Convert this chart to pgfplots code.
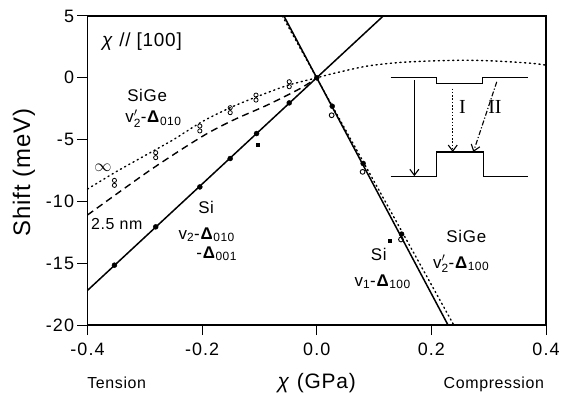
\documentclass[border=0pt]{standalone}
\usepackage{pgfplots}
\pgfplotsset{compat=1.18}
\usepackage{fontspec}
\setmainfont[LetterSpace=4]{Liberation Sans}
\newfontfamily\tickfont[LetterSpace=6]{Liberation Sans}
\newfontfamily\seriffont{Liberation Serif}
\usetikzlibrary{arrows.meta}
\newcommand{\sbs}[1]{$_{\mbox{\fontsize{12}{12}\selectfont #1}}$}
\newcommand{\sbsp}[1]{$^{\prime}_{\mbox{\fontsize{12}{12}\selectfont #1}}$}
\newcommand{\bD}{\textbf{Δ}}
\begin{document}
\begin{tikzpicture}
\begin{axis}[name=ax,
  scale only axis, width=458.5bp, height=309bp,
  xmin=-0.4, xmax=0.4, ymin=-20, ymax=5,
  xtick={-0.4,-0.2,0,0.2,0.4}, xticklabels={-0.4,-0.2,0.0,0.2,0.4},
  ytick={-20,-15,-10,-5,0,5}, yticklabels={-20,-15,-10,-5,0,5},
  tick align=outside, xtick pos=bottom, ytick pos=left,
  major tick length=10bp,
  axis line style={line width=1.6bp},
  every tick/.style={black, line width=1bp},
  tick label style={font=\tickfont\fontsize{18}{18}\selectfont},
  xticklabel style={yshift=-4bp},
  clip=false,
]
% Si v2 - Delta010 - Delta001 (solid)
\addplot[black, line width=1.5bp] coordinates {(-0.4,-17.2) (0.116,5)};
% Si v1 - Delta100 (solid steep)
\addplot[black, line width=1.5bp] coordinates {(-0.0573,5) (0.229,-20)};
% SiGe v2' - Delta100 (dotted steep)
\addplot[black, line width=1.4bp, dash pattern=on 1.2bp off 3.3bp, line cap=round] coordinates {(-0.06,5) (0.239,-20)};
% SiGe v2' - Delta010 (dotted curve, infinite)
\addplot[black, line width=1.4bp, dash pattern=on 1.2bp off 3.6bp, line cap=round, smooth] coordinates {
(-0.4,-9.0) (-0.35,-7.6) (-0.3,-6.3) (-0.25,-5.0) (-0.2,-3.55) (-0.15,-2.4) (-0.1,-1.45) (-0.05,-0.6) (0,0)
(0.029,0.35) (0.087,0.94) (0.145,1.24) (0.204,1.37) (0.262,1.42) (0.32,1.34) (0.378,1.16) (0.4,1.02)};
% 2.5 nm (dashed)
\addplot[black, line width=1.4bp, dash pattern=on 7bp off 4.5bp, smooth] coordinates {
(-0.4,-11.1) (-0.29,-7.45) (-0.2,-4.75) (-0.146,-3.43) (-0.087,-2.22) (-0.029,-0.87) (0,0)};
% Si filled points
\addplot[only marks, mark=*, mark size=2.5bp, black] coordinates {
(-0.353,-15.16) (-0.281,-12.06) (-0.204,-8.83) (-0.151,-6.53) (-0.105,-4.51) (-0.048,-2.03) (0,0)
(0.027,-2.30) (0.081,-6.93) (0.148,-12.65)};
% SiGe open points, right
\addplot[only marks, mark=o, mark size=2.4bp, black, mark options={line width=0.9bp}] coordinates {
(0.026,-3.03) (0.080,-7.61) (0.147,-13.08)};
% SiGe open points, left (pairs)
\addplot[only marks, mark=o, mark size=2.1bp, black, mark options={line width=0.8bp}] coordinates {
(-0.353,-8.3) (-0.281,-6.06) (-0.204,-3.9) (-0.151,-2.42) (-0.106,-1.4) (-0.048,-0.32)};
\addplot[only marks, mark=o, mark size=2.1bp, black, mark options={line width=0.8bp}] coordinates {
(-0.353,-8.7) (-0.281,-6.46) (-0.204,-4.3) (-0.151,-2.82) (-0.106,-1.8) (-0.048,-0.72)};
% small squares
\addplot[only marks, mark=square*, mark size=1.4bp, black] coordinates {(-0.103,-5.4) (0.127,-13.2)};

% inset energy diagram
\draw[line width=1.3bp] (axis cs:0.129,0) -- (axis cs:0.2094,0) -- (axis cs:0.2094,-0.46) -- (axis cs:0.2897,-0.46) -- (axis cs:0.2897,0) -- (axis cs:0.3693,0);
\draw[line width=1.3bp] (axis cs:0.129,-7.96) -- (axis cs:0.2094,-7.96) -- (axis cs:0.2094,-6.0) -- (axis cs:0.2908,-6.0) -- (axis cs:0.2908,-7.96) -- (axis cs:0.3693,-7.96);
\draw[line width=1.1bp, -{Straight Barb[length=6bp,width=9bp]}] (axis cs:0.1703,-0.19) -- (axis cs:0.1703,-7.96);
\draw[line width=1.1bp, dash pattern=on 1.5bp off 1.8bp, -{Straight Barb[length=6bp,width=9bp,line width=1.1bp]}] (axis cs:0.2373,-0.87) -- (axis cs:0.2373,-6.0);
\draw[line width=1.1bp, dash pattern=on 5bp off 2bp on 1.2bp off 2bp, -{Straight Barb[length=6bp,width=9bp,line width=1.1bp]}] (axis cs:0.314,-0.33) -- (axis cs:0.2733,-6.0);
\node[font=\seriffont\fontsize{20}{20}\selectfont] at (axis cs:0.254,-2.35) {I};
\node[font=\seriffont\fontsize{20}{20}\selectfont] at (axis cs:0.311,-2.35) {II};

% annotations
\node[anchor=base west, font=\fontsize{19}{19}\selectfont, inner sep=0pt] at (axis cs:-0.375,2.5) {\textit{χ} // [100]};
\node[font=\fontsize{17}{17}\selectfont] at (axis cs:-0.296,-1.45) {SiGe};
\node[font=\fontsize{17}{17}\selectfont] at (axis cs:-0.285,-3.3) {v\sbsp{2}-\bD\sbs{010}};
\node[font=\fontsize{18}{18}\selectfont] at (axis cs:-0.373,-7.25) {$\infty$};
\node[font=\fontsize{16}{16}\selectfont] at (axis cs:-0.349,-11.84) {2.5 nm};
\node[font=\fontsize{17}{17}\selectfont] at (axis cs:-0.193,-10.45) {Si};
\node[font=\fontsize{17}{17}\selectfont] at (axis cs:-0.192,-12.7) {v\sbs{2}-\bD\sbs{010}};
\node[font=\fontsize{17}{17}\selectfont] at (axis cs:-0.1745,-14.25) {-\bD\sbs{001}};
\node[font=\fontsize{17}{17}\selectfont] at (axis cs:0.108,-14.27) {Si};
\node[font=\fontsize{17}{17}\selectfont] at (axis cs:0.115,-16.5) {v\sbs{1}-\bD\sbs{100}};
\node[font=\fontsize{17}{17}\selectfont] at (axis cs:0.261,-12.87) {SiGe};
\node[font=\fontsize{17}{17}\selectfont] at (axis cs:0.252,-15.05) {v\sbsp{2}-\bD\sbs{100}};

% axis labels
\node[rotate=90, font=\fontsize{24}{24}\selectfont] at (axis cs:-0.511,-7.65) {Shift (meV)};
\node[anchor=base, font=\fontsize{21}{21}\selectfont] at (axis cs:0,-25.11) {\textit{χ} (GPa)};
\node[anchor=base, font=\fontsize{16}{16}\selectfont] at (axis cs:-0.349,-25.11) {Tension};
\node[anchor=base, font=\fontsize{16}{16}\selectfont] at (axis cs:0.309,-25.11) {Compression};
\end{axis}
\pgfresetboundingbox
\path[use as bounding box] (ax.south west) ++(-87.5bp,-68bp) rectangle ++(566bp,393bp);
\end{tikzpicture}
\end{document}
